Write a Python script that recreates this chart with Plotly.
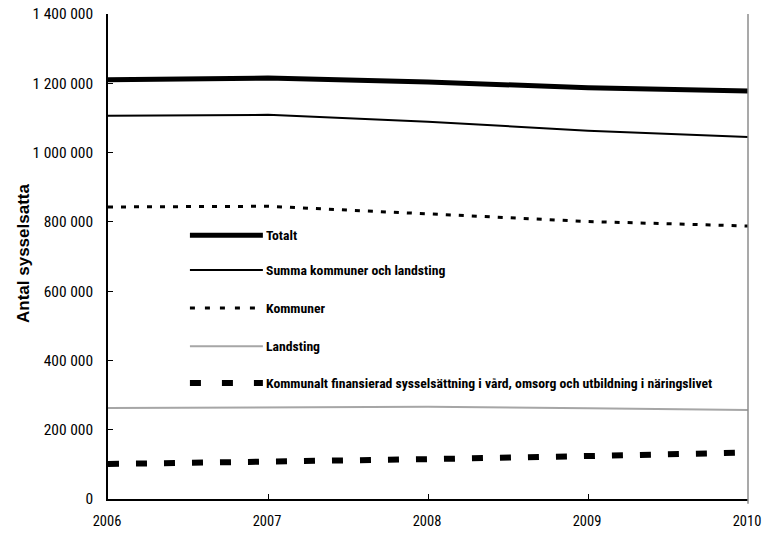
import plotly.graph_objects as go

years = [2006, 2007, 2008, 2009, 2010]
totalt = [1210000, 1215000, 1204000, 1187000, 1178000]
summa = [1106000, 1109000, 1089000, 1063000, 1045000]
kommuner = [843000, 845000, 823000, 801000, 788000]
landsting = [263000, 264000, 266000, 262000, 257000]
kommunalt_fin = [101000, 107000, 115000, 124000, 134000]

series_names = [
    "Totalt",
    "Summa kommuner och landsting",
    "Kommuner",
    "Landsting",
    "Kommunalt finansierad sysselsättning i vård, omsorg och utbildning i näringslivet",
]

styles = [
    dict(color="black", width=5, dash="solid"),
    dict(color="black", width=2, dash="solid"),
    dict(color="black", width=3, dash="5px,8px"),
    dict(color="#a6a6a6", width=2, dash="solid"),
    dict(color="black", width=6, dash="11px,17px"),
]
legend_dash = ["solid", "solid", "5px,10px", "solid", "11px,21px"]

COND = "Roboto Condensed, Liberation Sans Narrow, sans-serif"

fig = go.Figure()
for name, vals, st in zip(series_names, [totalt, summa, kommuner, landsting, kommunalt_fin], styles):
    fig.add_trace(go.Scatter(x=years, y=vals, mode="lines", name=name, line=st,
                             showlegend=False, hoverinfo="x+y+name"))

# Legend drawn inside the plot area
leg_font = dict(family=COND, size=13.7, color="black")
leg_y = [0.544, 0.472, 0.394, 0.315, 0.239]
for name, st, dsh, yy in zip(series_names, styles, legend_dash, leg_y):
    fig.add_shape(type="line", xref="paper", yref="paper", x0=0.128, x1=0.242, y0=yy, y1=yy,
                  line=dict(color=st["color"], width=st["width"], dash=dsh))
    fig.add_annotation(xref="paper", yref="paper", x=0.244, y=yy, text="<b>" + name + "</b>",
                       showarrow=False, xanchor="left", yanchor="middle", font=leg_font)

# Right-hand frame line
fig.add_shape(type="line", xref="paper", yref="paper", x0=1, x1=1, y0=-0.01, y1=1,
              line=dict(color="#8c8c8c", width=1.5))

# Y-axis title
fig.add_annotation(xref="paper", yref="paper", x=-0.133, y=0.507, text="<b>Antal sysselsatta</b>",
                   textangle=-90, showarrow=False, xanchor="center", yanchor="middle",
                   font=dict(family="Liberation Sans, Arial, sans-serif", size=17, color="black"))

fig.update_layout(
    width=762, height=535,
    margin=dict(l=108, r=14, t=14, b=36),
    plot_bgcolor="white", paper_bgcolor="white",
    separators=", ",
    showlegend=False,
    xaxis=dict(range=[2006, 2010], tickvals=years, ticktext=[str(y) for y in years],
               showgrid=False, zeroline=False, showline=True, linecolor="black", linewidth=1.5,
               ticks="inside", ticklen=5, tickcolor="black",
               tickfont=dict(family=COND, size=14.5, color="black"),
               ticklabelstandoff=8, ticklabelshift=-1,
               ticklabeloverflow="allow", automargin=False),
    yaxis=dict(range=[0, 1400000], dtick=200000, tickformat=",d",
               showgrid=False, zeroline=False, showline=True, linecolor="black", linewidth=1.5,
               ticks="inside", ticklen=5, tickcolor="black",
               tickfont=dict(family=COND, size=15.5, color="black"),
               ticklabelstandoff=10, ticklabeloverflow="allow", automargin=False),
)

fig.write_html("out.html")
